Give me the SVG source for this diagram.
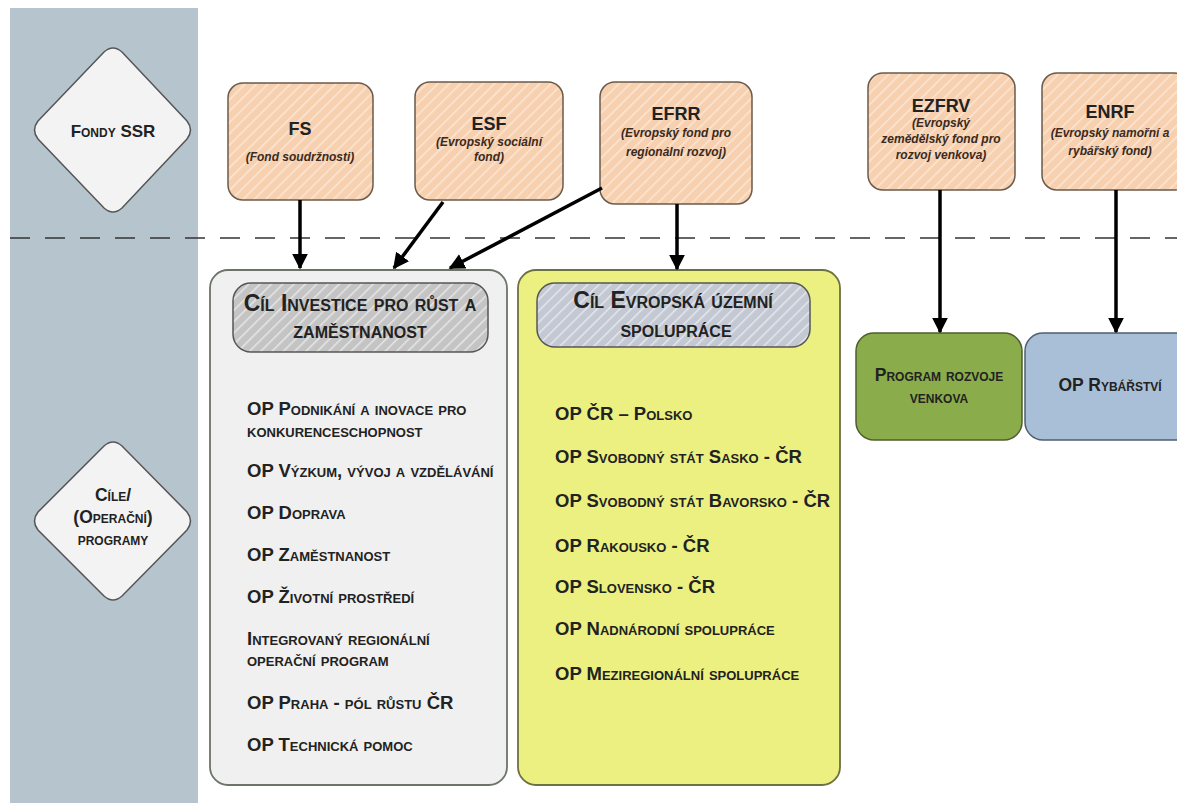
<svg xmlns="http://www.w3.org/2000/svg" width="1177" height="803" viewBox="0 0 1177 803">
<defs>
<pattern id="hatchO" patternUnits="userSpaceOnUse" width="8" height="8" patternTransform="rotate(45)">
<rect width="8" height="8" fill="#f7d0b0"/>
<line x1="0" y1="0" x2="0" y2="8" stroke="#fbe6d4" stroke-width="3"/>
</pattern>
<pattern id="hatchG" patternUnits="userSpaceOnUse" width="8" height="8" patternTransform="rotate(45)">
<rect width="8" height="8" fill="#c4c4c4"/>
<line x1="0" y1="0" x2="0" y2="8" stroke="#e6e6e6" stroke-width="3"/>
</pattern>
<pattern id="hatchB" patternUnits="userSpaceOnUse" width="8" height="8" patternTransform="rotate(45)">
<rect width="8" height="8" fill="#c3c8d2"/>
<line x1="0" y1="0" x2="0" y2="8" stroke="#e4e7ec" stroke-width="3"/>
</pattern>
<marker id="arrB" viewBox="0 0 10 10" refX="9" refY="5" markerWidth="16" markerHeight="16" orient="auto" markerUnits="userSpaceOnUse">
<path d="M0,0 L10,5 L0,10 z" fill="#000"/>
</marker>
</defs>
<style>
text{font-family:"Liberation Sans",Arial,sans-serif;font-weight:bold;fill:#222}
.sc{font-variant:small-caps}
.fund{fill:url(#hatchO);stroke:#6b5a4a;stroke-width:1.5}
.fn{font-size:18px;text-anchor:middle}
.fs{font-size:12px;font-style:italic;text-anchor:middle;fill:#3a2a20}
.hdr{stroke:#555;stroke-width:1.5}
.ht{font-size:23px;text-anchor:middle}
.li{font-size:18.5px}
.dia{fill:#f3f3f3;stroke:#555;stroke-width:1.5}
.conn{stroke:#000;stroke-width:3.5;fill:none}
</style>
<rect width="1177" height="803" fill="#ffffff"/>
<rect id="stripe" x="10" y="8" width="188" height="795" fill="#b6c5cd"/>
<line x1="10" y1="238" x2="1177" y2="238" stroke="#333" stroke-width="1.5" stroke-dasharray="20 15"/>

<g id="n-fondy">
<path class="dia" d="M104,52 Q113,44 122,52 L187,121 Q194,130 187,139 L122,208 Q113,216 104,208 L38,139 Q31,130 38,121 Z"/>
<text class="sc" x="113" y="137" font-size="17" text-anchor="middle">Fondy SSR</text>
</g>
<g id="n-cile">
<path class="dia" d="M104,446 Q113,438 122,446 L187,512 Q194,521 187,530 L122,596 Q113,604 104,596 L38,530 Q31,521 38,512 Z"/>
<text class="sc" x="113" y="501" font-size="17.5" text-anchor="middle">Cíle/</text>
<text class="sc" x="113" y="523" font-size="17.5" text-anchor="middle">(Operační)</text>
<text class="sc" x="113" y="545" font-size="17.5" text-anchor="middle">programy</text>
</g>

<g id="n-fs">
<rect class="fund" x="228" y="83" width="145" height="117" rx="15"/>
<text class="fn" x="300" y="135">FS</text>
<text class="fs" x="300" y="161">(Fond soudržnosti)</text>
</g>
<g id="n-esf">
<rect class="fund" x="415" y="82" width="148" height="118" rx="15"/>
<text class="fn" x="489" y="130">ESF</text>
<text class="fs" x="489" y="146">(Evropský sociální</text>
<text class="fs" x="489" y="161">fond)</text>
</g>
<g id="n-efrr">
<rect class="fund" x="600" y="82" width="152" height="122" rx="15"/>
<text class="fn" x="676" y="120">EFRR</text>
<text class="fs" x="676" y="137">(Evropský fond pro</text>
<text class="fs" x="676" y="156">regionální rozvoj)</text>
</g>
<g id="n-ezfrv">
<rect class="fund" x="868" y="73" width="147" height="117" rx="15"/>
<text class="fn" x="941" y="112">EZFRV</text>
<text class="fs" x="941" y="127">(Evropský</text>
<text class="fs" x="941" y="143">zemědělský fond pro</text>
<text class="fs" x="941" y="159">rozvoj venkova)</text>
</g>
<g id="n-enrf">
<rect class="fund" x="1042" y="73" width="147" height="117" rx="15"/>
<text class="fn" x="1110" y="118">ENRF</text>
<text class="fs" x="1110" y="137">(Evropský namořní a</text>
<text class="fs" x="1110" y="155">rybářský fond)</text>
</g>

<g id="n-investice">
<rect x="210" y="270" width="297" height="515" rx="18" fill="#f0f0f0" stroke="#6d7468" stroke-width="1.8"/>
<rect class="hdr" x="233" y="283" width="255" height="69" rx="18" fill="url(#hatchG)"/>
<text class="sc ht" x="360" y="311">Cíl Investice pro růst a</text>
<text class="sc ht" x="360" y="338">zaměstnanost</text>
<text class="sc li" x="247" y="415">OP Podnikání a inovace pro</text>
<text class="sc li" x="247" y="437">konkurenceschopnost</text>
<text class="sc li" x="247" y="477">OP Výzkum, vývoj a vzdělávání</text>
<text class="sc li" x="247" y="519">OP Doprava</text>
<text class="sc li" x="247" y="561">OP Zaměstnanost</text>
<text class="sc li" x="247" y="603">OP Životní prostředí</text>
<text class="sc li" x="247" y="645">Integrovaný regionální</text>
<text class="sc li" x="247" y="666">operační program</text>
<text class="sc li" x="247" y="709">OP Praha - pól růstu ČR</text>
<text class="sc li" x="247" y="751">OP Technická pomoc</text>
</g>

<g id="n-uzemni">
<rect x="518" y="270" width="322" height="515" rx="18" fill="#ecf080" stroke="#6d7040" stroke-width="1.8"/>
<rect class="hdr" x="537" y="283" width="273" height="64" rx="18" fill="url(#hatchB)"/>
<text class="sc ht" x="673" y="308">Cíl Evropská územní</text>
<text class="sc ht" x="676" y="337">spolupráce</text>
<text class="sc li" x="555" y="420">OP ČR – Polsko</text>
<text class="sc li" x="555" y="463">OP Svobodný stát Sasko - ČR</text>
<text class="sc li" x="555" y="507">OP Svobodný stát Bavorsko - ČR</text>
<text class="sc li" x="555" y="552">OP Rakousko - ČR</text>
<text class="sc li" x="555" y="593">OP Slovensko - ČR</text>
<text class="sc li" x="555" y="635">OP Nadnárodní spolupráce</text>
<text class="sc li" x="555" y="680">OP Meziregionální spolupráce</text>
</g>

<g id="n-prv">
<rect x="856" y="333" width="166" height="107" rx="18" fill="#8aac4a" stroke="#4d5e2e" stroke-width="1.5"/>
<text class="sc" x="939" y="381" font-size="17.5" text-anchor="middle">Program rozvoje</text>
<text class="sc" x="939" y="403" font-size="17.5" text-anchor="middle">venkova</text>
</g>
<g id="n-ryb">
<rect x="1025" y="333" width="170" height="107" rx="18" fill="#a9bfd7" stroke="#4f5f6f" stroke-width="1.5"/>
<text class="sc" x="1110" y="391" font-size="17.5" text-anchor="middle">OP Rybářství</text>
</g>

<g id="connectors">
<line class="conn" x1="300" y1="200" x2="300" y2="268" marker-end="url(#arrB)"/>
<line class="conn" x1="443" y1="202" x2="394" y2="268" marker-end="url(#arrB)"/>
<line class="conn" x1="602" y1="188" x2="450" y2="268" marker-end="url(#arrB)"/>
<line class="conn" x1="677" y1="204" x2="677" y2="269" marker-end="url(#arrB)"/>
<line class="conn" x1="940" y1="190" x2="940" y2="332" marker-end="url(#arrB)"/>
<line class="conn" x1="1116" y1="190" x2="1116" y2="332" marker-end="url(#arrB)"/>
</g>
</svg>
